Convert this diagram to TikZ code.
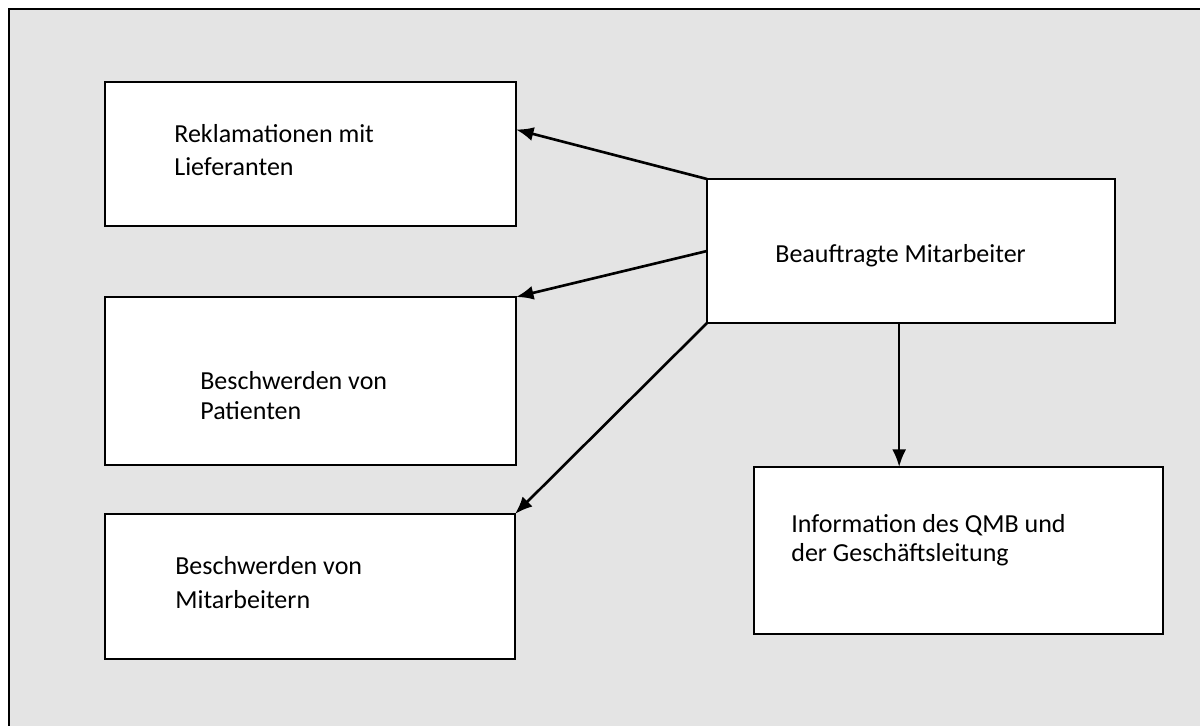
\documentclass[tikz,border=0pt]{standalone}
\usepackage{fontspec}
\setmainfont{Carlito}
\usetikzlibrary{arrows.meta,calc}
\definecolor{bggray}{HTML}{E4E4E4}
\begin{document}
\begin{tikzpicture}[x=0.02cm,y=-0.02cm,
  boxstyle/.style={draw=black,fill=white,line width=1.3pt,rectangle,inner sep=0pt,outer sep=0pt},
  lbl/.style={anchor=base west,inner sep=0pt,font=\fontsize{14.8}{19}\selectfont},
  conn/.style={line width=1.5pt,-{Latex[length=10pt,width=8pt]}}]
\useasboundingbox (0,0) rectangle (1200,726);
\draw[fill=bggray,line width=1.3pt] (9,9) rectangle (1215,740);
% boxes
\node[boxstyle,minimum width=8.22cm,minimum height=2.88cm] (b1) at (310.5,154) {};
\node[boxstyle,minimum width=8.22cm,minimum height=3.36cm] (b2) at (310.5,381) {};
\node[boxstyle,minimum width=8.2cm,minimum height=2.9cm] (b3) at (310,586.5) {};
\node[boxstyle,minimum width=8.16cm,minimum height=2.88cm] (b4) at (911,251) {};
\node[boxstyle,minimum width=8.18cm,minimum height=3.34cm] (b5) at (958.5,550.5) {};
% texts
\node[lbl] (t1a) at (174,143) {Reklamationen mit};
\node[lbl] (t1b) at (174,176) {Lieferanten};
\node[lbl] (t2a) at (200,389) {Beschwerden von};
\node[lbl] (t2b) at (200,419) {Patienten};
\node[lbl] (t3a) at (175,574) {Beschwerden von};
\node[lbl] (t3b) at (175,608) {Mitarbeitern};
\node[lbl] (t4) at (775,262) {Beauftragte Mitarbeiter};
\node[lbl] (t5a) at (791,532) {Information des QMB und};
\node[lbl] (t5b) at (791,561) {der Geschäftsleitung};
% connectors
\coordinate (a1end) at ($(b1.north east)!0.33!(b1.south east)$);
\coordinate (a4start) at ($(b4.south west)!0.471!(b4.south east)$);
\draw[conn] (b4.north west) -- (a1end);
\draw[conn] (b4.west) -- (b2.north east);
\draw[conn] (b4.south west) -- (b3.north east);
\draw[conn] (a4start) -- (a4start |- b5.north);
\end{tikzpicture}
\end{document}
